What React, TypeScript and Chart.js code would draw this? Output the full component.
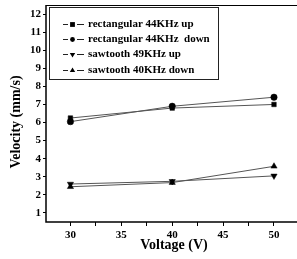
import React, { useEffect, useRef } from "react";
import { Chart, registerables } from "chart.js";

Chart.register(...registerables);

const voltages = [30, 40, 50];
const rectUp = [6.25, 6.8, 7.0];
const rectDown = [6.05, 6.9, 7.4];
const sawUp = [2.6, 2.75, 3.05];
const sawDown = [2.45, 2.68, 3.58];
const seriesLabels = [
  "rectangular 44KHz up",
  "rectangular 44KHz  down",
  "sawtooth 49KHz up",
  "sawtooth 40KHz down",
];
const xTicks = [30, 32.5, 35, 37.5, 40, 42.5, 45, 47.5, 50];
const yTicks = [1, 2, 3, 4, 5, 6, 7, 8, 9, 10, 11, 12];

const FONT = "'Liberation Serif', 'DejaVu Serif', serif";

export default function App() {
  const ref = useRef<HTMLCanvasElement | null>(null);
  useEffect(() => {
    document.body.style.margin = "0";
    const canvas = ref.current!;
    const mk = (vals: number[]) => vals.map((v, i) => ({ x: voltages[i], y: v }));
    const styles = [
      { pointStyle: "rect", rotation: 0, radius: 3.2 },
      { pointStyle: "circle", rotation: 0, radius: 3.2 },
      { pointStyle: "triangle", rotation: 180, radius: 3.6 },
      { pointStyle: "triangle", rotation: 0, radius: 3.6 },
    ];
    const all = [rectUp, rectDown, sawUp, sawDown];
    const datasets = all.map((vals, i) => ({
      label: seriesLabels[i],
      data: mk(vals),
      borderColor: "#555",
      borderWidth: 1,
      backgroundColor: "#000",
      pointBackgroundColor: "#000",
      pointBorderColor: "#000",
      pointBorderWidth: 0.5,
      pointStyle: styles[i].pointStyle as any,
      pointRotation: styles[i].rotation,
      pointRadius: styles[i].radius,
      showLine: true,
      tension: 0,
    }));

    function drawMarker(ctx: any, style: string, rot: number, r: number, x: number, y: number) {
      ctx.save();
      ctx.translate(x, y);
      ctx.rotate((rot * Math.PI) / 180);
      ctx.beginPath();
      if (style === "rect") {
        ctx.rect(-r, -r, 2 * r, 2 * r);
      } else if (style === "circle") {
        ctx.arc(0, 0, r, 0, Math.PI * 2);
      } else {
        const rr = r * 1.3;
        ctx.moveTo(0, -rr);
        ctx.lineTo(rr * 0.866, rr * 0.5);
        ctx.lineTo(-rr * 0.866, rr * 0.5);
        ctx.closePath();
      }
      ctx.fill();
      ctx.restore();
    }

    const decor = {
      id: "decor",
      afterDraw(chart: any) {
        const ctx = chart.ctx;
        const a = chart.chartArea;
        ctx.save();
        ctx.strokeStyle = "#000";
        ctx.lineWidth = 1;
        ctx.beginPath();
        ctx.moveTo(a.left, a.top + 0.5);
        ctx.lineTo(a.right, a.top + 0.5);
        ctx.stroke();
        ctx.lineWidth = 1.5;
        ctx.beginPath();
        ctx.moveTo(a.left, a.top);
        ctx.lineTo(a.left, a.bottom);
        ctx.lineTo(a.right, a.bottom);
        ctx.stroke();

        // legend box
        const bx = 49, by = 7, bw = 169, bh = 72;
        ctx.lineWidth = 1;
        ctx.fillStyle = "#fff";
        ctx.fillRect(bx, by, bw, bh);
        ctx.strokeStyle = "#222";
        ctx.strokeRect(bx + 0.5, by + 0.5, bw, bh);
        const rows = [24, 39, 54, 70];
        chart.data.datasets.forEach((ds: any, i: number) => {
          const y = rows[i];
          ctx.strokeStyle = "#222";
          ctx.lineWidth = 1;
          ctx.beginPath();
          ctx.moveTo(63, y + 0.5);
          ctx.lineTo(68, y + 0.5);
          ctx.moveTo(77, y + 0.5);
          ctx.lineTo(84, y + 0.5);
          ctx.stroke();
          ctx.fillStyle = "#000";
          drawMarker(ctx, ds.pointStyle, ds.pointRotation, 2.4, 72.5, y + 0.5);
          ctx.fillStyle = "#000";
          ctx.font = `bold 11px ${FONT}`;
          ctx.textBaseline = "middle";
          ctx.textAlign = "left";
          ctx.fillText(ds.label, 88, y + 0.5);
        });

        // axis titles
        ctx.fillStyle = "#000";
        ctx.font = `bold 14px ${FONT}`;
        ctx.textAlign = "center";
        ctx.textBaseline = "middle";
        ctx.fillText("Voltage (V)", 174, 245);
        ctx.translate(16, 122);
        ctx.rotate(-Math.PI / 2);
        ctx.fillText("Velocity (mm/s)", 0, 0);
        ctx.restore();
      },
    };

    const chart = new Chart(canvas, {
      type: "scatter",
      data: { datasets: datasets as any },
      plugins: [decor],
      options: {
        responsive: false,
        animation: false,
        layout: { autoPadding: false, padding: { top: 5, right: 0, left: 0, bottom: 0 } },
        plugins: { legend: { display: false }, tooltip: { enabled: false } },
        scales: {
          x: {
            type: "linear",
            min: 27.6,
            max: 52.26,
            afterBuildTicks: (s: any) => {
              s.ticks = xTicks.map((v) => ({ value: v }));
            },
            afterFit: (s: any) => {
              s.height = 37;
              s.paddingRight = 0;
              s.paddingLeft = 0;
            },
            grid: { drawOnChartArea: false, color: "#000", tickLength: 4 },
            border: { display: false },
            ticks: {
              color: "#000",
              font: { family: FONT, weight: "bold", size: 11 },
              padding: 3,
              maxRotation: 0,
              autoSkip: false,
              callback: (v: any) => (Number(v) % 5 === 0 ? String(v) : ""),
            },
          },
          y: {
            type: "linear",
            min: 0.5,
            max: 12.5,
            afterBuildTicks: (s: any) => {
              s.ticks = yTicks.map((v) => ({ value: v }));
            },
            afterFit: (s: any) => {
              s.width = 46;
              s.paddingTop = 0;
              s.paddingBottom = 0;
            },
            grid: { drawOnChartArea: false, color: "#000", tickLength: 3 },
            border: { display: false },
            ticks: {
              color: "#000",
              font: { family: FONT, weight: "bold", size: 11 },
              padding: 2,
              autoSkip: false,
            },
          },
        },
      },
    });
    return () => chart.destroy();
  }, []);
  return (
    <canvas
      ref={ref}
      width={297}
      height={259}
      style={{ display: "block", width: 297, height: 259, background: "#fff" }}
    />
  );
}
